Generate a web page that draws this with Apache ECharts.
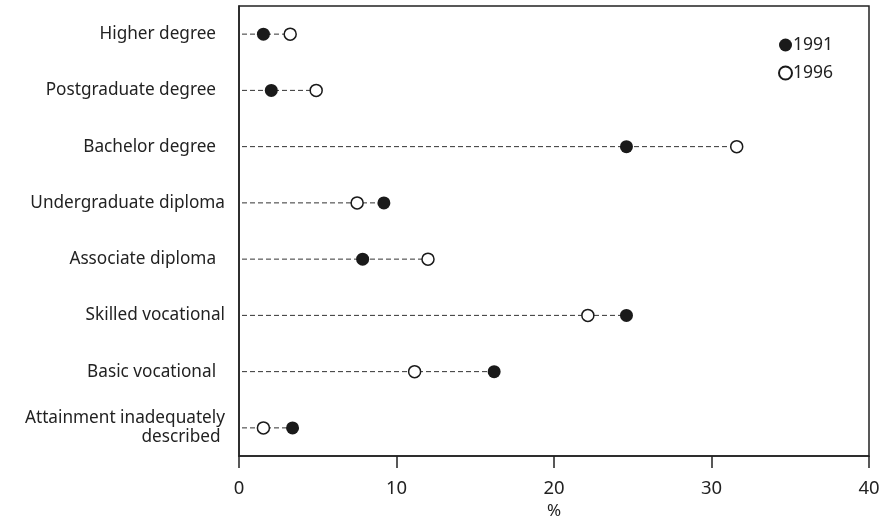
<!DOCTYPE html>
<html><head><meta charset="utf-8">
<script src="https://cdn.jsdelivr.net/npm/echarts@6/dist/echarts.min.js"></script>
<style>html,body{margin:0;padding:0;background:#fff}#c{width:892px;height:526px}</style>
</head><body><div id="c"></div>
<script>
const categories = ["Higher degree  ", "Postgraduate degree  ", "Bachelor degree  ", "Undergraduate diploma", "Associate diploma  ", "Skilled vocational", "Basic vocational  ", "Attainment inadequately\ndescribed "];
const values1991 = [1.55, 2.05, 24.6, 9.2, 7.85, 24.6, 16.2, 3.4];
const values1996 = [3.25, 4.9, 31.6, 7.5, 12.0, 22.15, 11.15, 1.55];
const xTicks = [0, 10, 20, 30, 40];

const font = "Noto Sans";
const ink = "#222";
const lineData = categories.map((c, i) => [i, Math.max(values1991[i], values1996[i])]);

const chart = echarts.init(document.getElementById('c'));
chart.setOption({
  animation: false,
  textStyle: { fontFamily: font, color: ink },
  grid: { left: 239, right: 23, top: 6, bottom: 70, show: true, borderColor: ink, borderWidth: 1.5 },
  xAxis: {
    type: 'value', min: xTicks[0], max: xTicks[xTicks.length - 1], interval: 10,
    axisLine: { show: true, lineStyle: { color: ink, width: 1.5 } },
    axisTick: { show: true, length: 12, lineStyle: { color: ink, width: 1.5 } },
    axisLabel: { fontSize: 18.5, color: ink, margin: 23, fontFamily: font },
    splitLine: { show: false },
    name: '%', nameLocation: 'middle', nameGap: 45,
    nameTextStyle: { fontSize: 17, color: ink, fontFamily: font }
  },
  yAxis: {
    type: 'category', data: categories, inverse: true,
    axisLine: { show: true, lineStyle: { color: ink, width: 1.5 } },
    axisTick: { show: false },
    axisLabel: { fontSize: 17.2, color: ink, margin: 14, fontFamily: font, lineHeight: 19, align: 'right' },
    splitLine: { show: false }
  },
  legend: {
    data: [
      { name: '1991', icon: 'circle', itemStyle: { color: '#1a1a1a', borderWidth: 0, opacity: 1 } },
      { name: '1996', icon: 'circle' }
    ],
    orient: 'vertical', left: 773, top: 31, itemWidth: 13, itemHeight: 13, itemGap: 10,
    textStyle: { fontSize: 17.5, color: ink, fontFamily: font, padding: [0, 0, 0, -4] }
  },
  series: [
    {
      type: 'custom', name: 'lines', silent: true, z: 1,
      data: lineData,
      renderItem: function (params, api) {
        const y = api.value(0);
        const p0 = api.coord([0, y]);
        const p1 = api.coord([api.value(1), y]);
        return {
          type: 'line',
          shape: { x1: p0[0] + 3, y1: p0[1], x2: p1[0], y2: p1[1] },
          style: { stroke: '#333', lineWidth: 1, lineDash: [5, 3] }
        };
      },
      encode: { x: 1, y: 0 }
    },
    {
      type: 'scatter', name: '1991', z: 3, symbol: 'circle', symbolSize: 13,
      data: values1991.map((v, i) => [v, i]),
      itemStyle: { color: '#1a1a1a', borderWidth: 0, opacity: 1 }
    },
    {
      type: 'scatter', name: '1996', z: 3, symbol: 'circle', symbolSize: 12,
      data: values1996.map((v, i) => [v, i]),
      itemStyle: { color: '#fff', borderColor: '#1a1a1a', borderWidth: 1.5, opacity: 1 }
    }
  ]
});
</script></body></html>
